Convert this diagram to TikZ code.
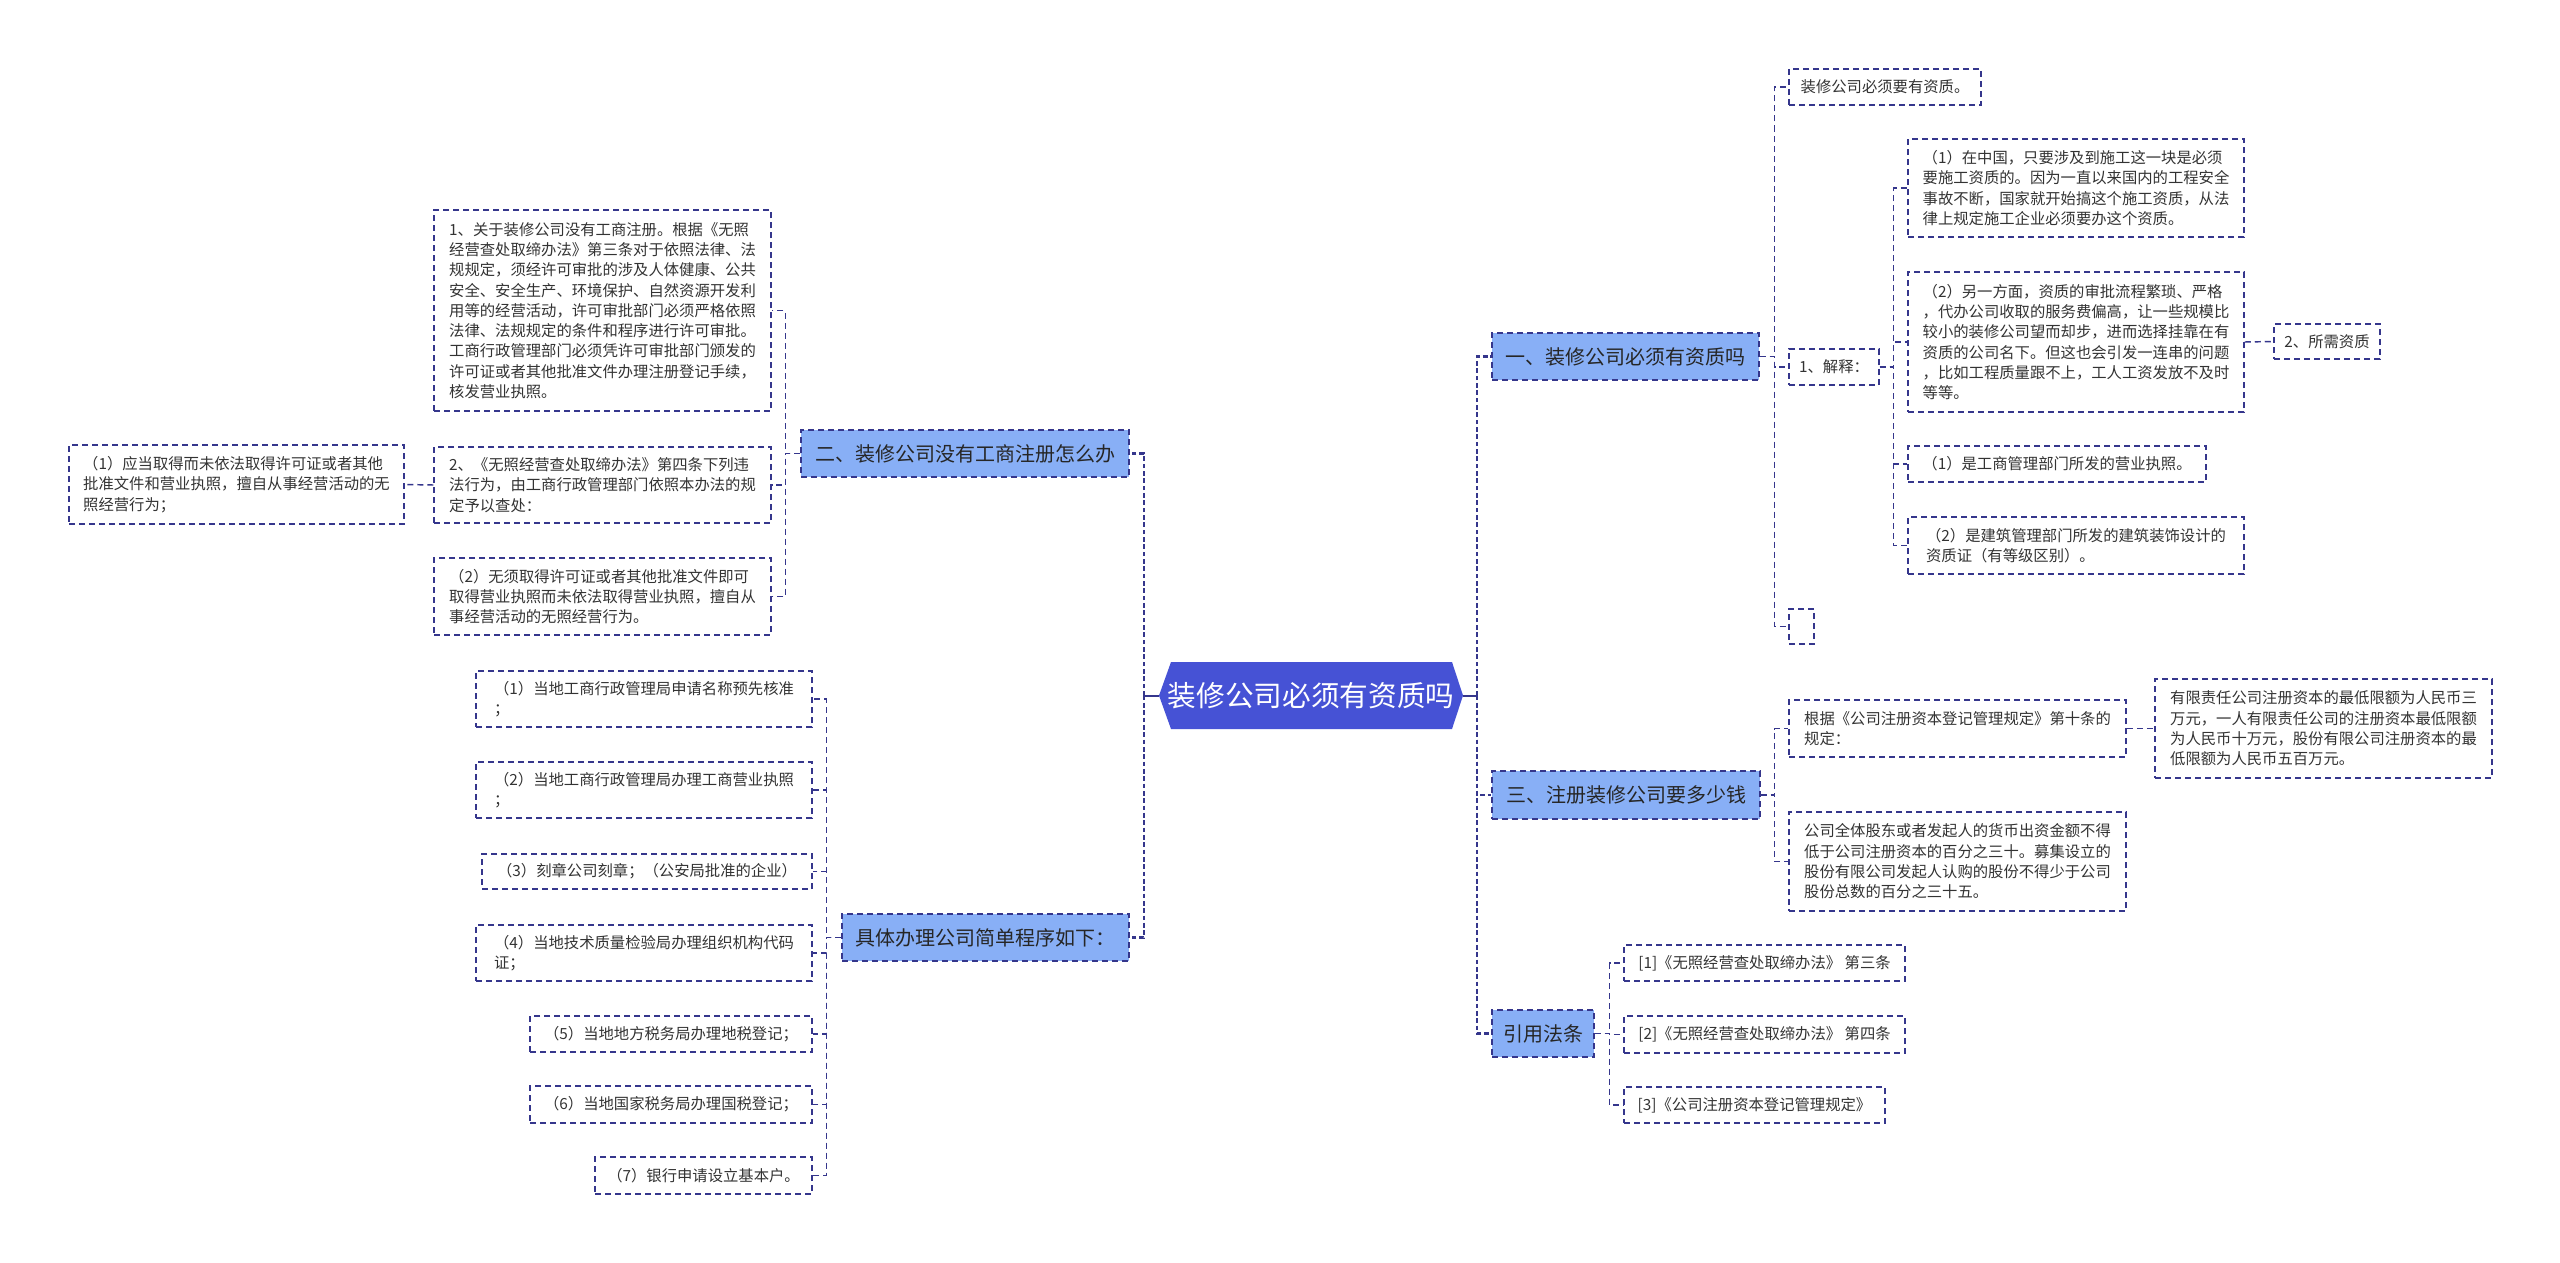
\documentclass[tikz,border=0pt]{standalone}
\usepackage{fontspec}
\setmainfont{Noto Sans CJK SC}
\usetikzlibrary{calc}
\definecolor{lnc}{HTML}{35368C}
\definecolor{lvf}{HTML}{88AFF6}
\definecolor{rootf}{HTML}{4652D5}
\definecolor{txt}{HTML}{333333}
\begin{document}
\begin{tikzpicture}[x=0.75pt,y=-0.75pt,
 wh/.style 2 args={minimum width=#1*0.75pt,minimum height=#2*0.75pt},
 det/.style={draw=lnc,line width=1.1pt,dash pattern=on 4.5pt off 3pt,fill=white,text=txt,align=left,inner xsep=5pt,inner ysep=3pt,font=\fontsize{11.5}{15.2}\selectfont},
 lv/.style={draw=lnc,line width=1.1pt,dash pattern=on 4.5pt off 3pt,fill=lvf,text=black!85,font=\fontsize{15}{18}\selectfont,inner sep=3pt},
 link/.style={draw=lnc,line width=1.1pt,dash pattern=on 4.5pt off 3pt},
 bus/.style={draw=lnc,line width=1.6pt,dash pattern=on 3.5pt off 2pt},
 rootc/.style={draw=lnc,line width=1.5pt}]

\useasboundingbox[fill=white] (0,0) rectangle (2560,1263);

% root
\fill[rootf] (1159,695.5) -- (1171,662) -- (1452,662) -- (1463,695.5) -- (1452,729) -- (1171,729) -- cycle;
\node[wh={304}{67},inner sep=0pt,text=white,font=\fontsize{21.5}{24}\selectfont] (root) at (1311,695.5) {装修公司必须有资质吗};

% level 1
\node[lv,wh={267}{47}] (n1) at (1625.5,356.5) {一、装修公司必须有资质吗};
\node[lv,wh={268}{48}] (n3) at (1626,795) {三、注册装修公司要多少钱};
\node[lv,wh={102}{47}] (n4) at (1543,1033.5) {引用法条};
\node[lv,wh={328}{47}] (n2) at (965,453.5) {二、装修公司没有工商注册怎么办};
\node[lv,wh={287}{47}] (n5) at (985.5,937.5) {具体办理公司简单程序如下：};

% n1 children
\node[det,wh={192}{36}] (a1) at (1885,87) {装修公司必须要有资质。};
\node[det,wh={90}{36}] (a2) at (1834,367) {1、解释：};
\node[det,wh={25}{35}] (a3) at (1801.5,626.5) {};

\node[det,wh={336}{98}] (b1) at (2076,188) {（1）在中国，只要涉及到施工这一块是必须\\要施工资质的。因为一直以来国内的工程安全\\事故不断，国家就开始搞这个施工资质，从法\\律上规定施工企业必须要办这个资质。};
\node[det,wh={336}{140}] (b2) at (2076,342) {（2）另一方面，资质的审批流程繁琐、严格\\，代办公司收取的服务费偏高，让一些规模比\\较小的装修公司望而却步，进而选择挂靠在有\\资质的公司名下。但这也会引发一连串的问题\\，比如工程质量跟不上，工人工资发放不及时\\等等。};
\node[det,wh={298}{36}] (b3) at (2057,464) {（1）是工商管理部门所发的营业执照。};
\node[det,wh={336}{57}] (b4) at (2076,545.5) {（2）是建筑管理部门所发的建筑装饰设计的\\资质证（有等级区别）。};
\node[det,wh={106}{35}] (c1) at (2327,341.5) {2、所需资质};

% n3 children
\node[det,wh={337}{57}] (d1) at (1957.5,728.5) {根据《公司注册资本登记管理规定》第十条的\\规定：};
\node[det,wh={337}{99}] (d2) at (1957.5,861.5) {公司全体股东或者发起人的货币出资金额不得\\低于公司注册资本的百分之三十。募集设立的\\股份有限公司发起人认购的股份不得少于公司\\股份总数的百分之三十五。};
\node[det,wh={337}{99}] (e1) at (2323.5,728.5) {有限责任公司注册资本的最低限额为人民币三\\万元，一人有限责任公司的注册资本最低限额\\为人民币十万元，股份有限公司注册资本的最\\低限额为人民币五百万元。};

% n4 children
\node[det,wh={281}{36}] (f1) at (1764.5,963) {[1]《无照经营查处取缔办法》 第三条};
\node[det,wh={281}{37}] (f2) at (1764.5,1034.5) {[2]《无照经营查处取缔办法》 第四条};
\node[det,wh={261}{36}] (f3) at (1754.5,1105) {[3]《公司注册资本登记管理规定》};

% n2 children
\node[det,wh={337}{201}] (g1) at (602.5,310.5) {1、关于装修公司没有工商注册。根据《无照\\经营查处取缔办法》第三条对于依照法律、法\\规规定，须经许可审批的涉及人体健康、公共\\安全、安全生产、环境保护、自然资源开发利\\用等的经营活动，许可审批部门必须严格依照\\法律、法规规定的条件和程序进行许可审批。\\工商行政管理部门必须凭许可审批部门颁发的\\许可证或者其他批准文件办理注册登记手续，\\核发营业执照。};
\node[det,wh={337}{76}] (g2) at (602.5,485) {2、《无照经营查处取缔办法》第四条下列违\\法行为，由工商行政管理部门依照本办法的规\\定予以查处：};
\node[det,wh={337}{77}] (g3) at (602.5,596.5) {（2）无须取得许可证或者其他批准文件即可\\取得营业执照而未依法取得营业执照，擅自从\\事经营活动的无照经营行为。};
\node[det,wh={335}{79}] (h1) at (236.5,484.5) {（1）应当取得而未依法取得许可证或者其他\\批准文件和营业执照，擅自从事经营活动的无\\照经营行为；};

% n5 children
\node[det,wh={336}{56}] (k1) at (644,699) {（1）当地工商行政管理局申请名称预先核准\\；};
\node[det,wh={336}{56}] (k2) at (644,790) {（2）当地工商行政管理局办理工商营业执照\\；};
\node[det,wh={330}{35}] (k3) at (647,871.5) {（3）刻章公司刻章；（公安局批准的企业）};
\node[det,wh={336}{56}] (k4) at (644,953) {（4）当地技术质量检验局办理组织机构代码\\证；};
\node[det,wh={282}{36}] (k5) at (671,1034) {（5）当地地方税务局办理地税登记；};
\node[det,wh={282}{37}] (k6) at (671,1104.5) {（6）当地国家税务局办理国税登记；};
\node[det,wh={217}{37}] (k7) at (703.5,1175.5) {（7）银行申请设立基本户。};

% root connectors
\draw[rootc] (root.east) -- ++(14,0) coordinate (rR);
\draw[rootc] (root.west) -- ++(-15,0) coordinate (rL);
\draw[bus] (rR) |- (n1.west);
\draw[bus] (rR) |- (n3.west);
\draw[bus] (rR) |- (n4.west);
\draw[bus] (rL) |- (n2.east);
\draw[bus] (rL) |- (n5.east);

% n1
\foreach \c in {a1,a2,a3} {\draw[link] (n1.east) -- ++(15,0) |- (\c.west);}
\foreach \c in {b1,b2,b3,b4} {\draw[link] (a2.east) -- ++(14,0) |- (\c.west);}
\draw[link] (b2.east) -- (c1.west);
% n3
\foreach \c in {d1,d2} {\draw[link] (n3.east) -- ++(14,0) |- (\c.west);}
\draw[link] (d1.east) -- (e1.west);
% n4
\foreach \c in {f1,f2,f3} {\draw[link] (n4.east) -- ++(15,0) |- (\c.west);}
% n2
\foreach \c in {g1,g2,g3} {\draw[link] (n2.west) -- ++(-15,0) |- (\c.east);}
\draw[link] (g2.west) -- (h1.east);
% n5
\foreach \c in {k1,k2,k3,k4,k5,k6,k7} {\draw[link] (n5.west) -- ++(-15,0) |- (\c.east);}
\end{tikzpicture}
\end{document}
